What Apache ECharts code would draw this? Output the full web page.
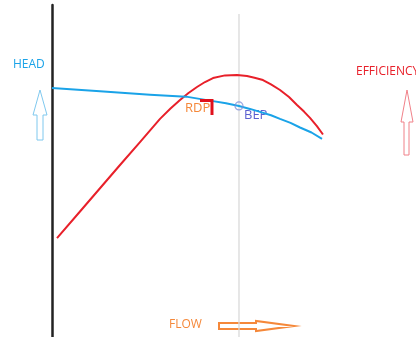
<!DOCTYPE html>
<html><head><meta charset="utf-8">
<script src="https://cdn.jsdelivr.net/npm/echarts@6/dist/echarts.min.js"></script>
<style>html,body{margin:0;padding:0;background:#fff}#c{width:416px;height:337px}</style>
</head><body><div id="c"></div>
<script>
// Flow in arbitrary units (0-100), head and efficiency in arbitrary units (0-100)
const headFlow = [0, 16, 32.67, 44.67, 52.67, 58, 62.33, 66, 69.33, 73, 76, 79.5, 82.67, 86.5, 90];
const headValues = [75.0, 74.0, 73.0, 72.4, 71.2, 70.4, 69.6, 68.7, 67.8, 66.8, 65.7, 64.5, 63.1, 61.6, 59.7];
const effFlow = [1.67, 9.33, 16, 22.67, 29.33, 36, 39.5, 42.67, 45.5, 48.33, 51, 53.67, 57.67, 61.67, 65, 67.5, 70.33, 73, 76, 79, 81.67, 84, 86, 88.3, 90.33];
const effValues = [29.8, 37.8, 44.8, 51.8, 58.7, 65.7, 68.8, 71.4, 73.5, 75.3, 76.8, 78.0, 78.8, 78.9, 78.6, 78.1, 77.4, 76.1, 74.4, 72.3, 69.9, 67.9, 66.0, 63.5, 61.0];
const bepFlow = 62.33, bepHead = 69.6;
const rdpFlow = [49.33, 53.33, 53.33];
const rdpValues = [71.2, 71.2, 66.9];
const bepLine = [0, 97.3];
const labels = {head: 'HEAD', eff: 'EFFICIENCY', flow: 'FLOW', rdp: 'RDP', bep: 'BEP'};

const zip = (a, b) => a.map((v, i) => [v, b[i]]);
const font = '"Open Sans", "Noto Sans", sans-serif';
const chart = echarts.init(document.getElementById('c'));
chart.setOption({
  animation: false,
  grid: {left: 52, top: 5, right: 64, bottom: 0},
  xAxis: {type: 'value', min: 0, max: 100, show: false},
  yAxis: {type: 'value', min: 0, max: 100, splitLine: {show: false},
    axisLine: {show: true, lineStyle: {color: '#222', width: 2.5}},
    axisTick: {show: false}, axisLabel: {show: false}},
  series: [
    {type: 'line', data: bepLine.map(v => [bepFlow, v]), symbol: 'none',
      lineStyle: {color: '#d9d9d9', width: 1.3}, z: 1},
    {type: 'line', data: zip(headFlow, headValues), smooth: false, symbol: 'none',
      lineStyle: {color: '#1aa3e8', width: 2, join: 'round'}, z: 3},
    {type: 'line', data: zip(effFlow, effValues), smooth: false, symbol: 'none',
      lineStyle: {color: '#e8202a', width: 2, join: 'round'}, z: 2},
    {type: 'line', data: zip(rdpFlow, rdpValues), symbol: 'none',
      lineStyle: {color: '#e0101c', width: 3, cap: 'butt', join: 'miter'}, z: 4},
    {type: 'scatter', data: [[bepFlow, bepHead]], symbol: 'circle', symbolSize: 8,
      itemStyle: {color: 'rgba(255,255,255,0)', borderColor: '#8090d8', borderWidth: 1.2}, z: 5}
  ],
  graphic: [
    {type: 'text', left: 13, top: 59, style: {text: labels.head, fill: '#1aa3e8', font: '12px ' + font}},
    {type: 'polygon', shape: {points: [[40,90],[47,115],[43,115],[43,140],[37,140],[37,115],[33,115]]},
      style: {fill: '#fff', stroke: '#7fc8ee', lineWidth: 1}},
    {type: 'text', left: 356, top: 66, style: {text: labels.eff, fill: '#e8202a', font: '12px ' + font}},
    {type: 'polygon', shape: {points: [[407,90],[413,122],[409,122],[409,155],[404,155],[404,122],[401,122]]},
      style: {fill: '#fff', stroke: '#f08088', lineWidth: 1}},
    {type: 'text', left: 169, top: 319, style: {text: labels.flow, fill: '#f5883a', font: '12px ' + font}},
    {type: 'polygon', shape: {points: [[219,323],[256,323],[256,321],[294,326],[256,331],[256,329],[219,329]]},
      style: {fill: '#fff', stroke: '#f5883a', lineWidth: 2}},
    {type: 'text', left: 185, top: 102, style: {text: labels.rdp, fill: '#f5883a', font: '13px ' + font}},
    {type: 'text', left: 244, top: 109, style: {text: labels.bep, fill: '#5a5fd0', font: '13px ' + font}}
  ]
});
</script></body></html>
